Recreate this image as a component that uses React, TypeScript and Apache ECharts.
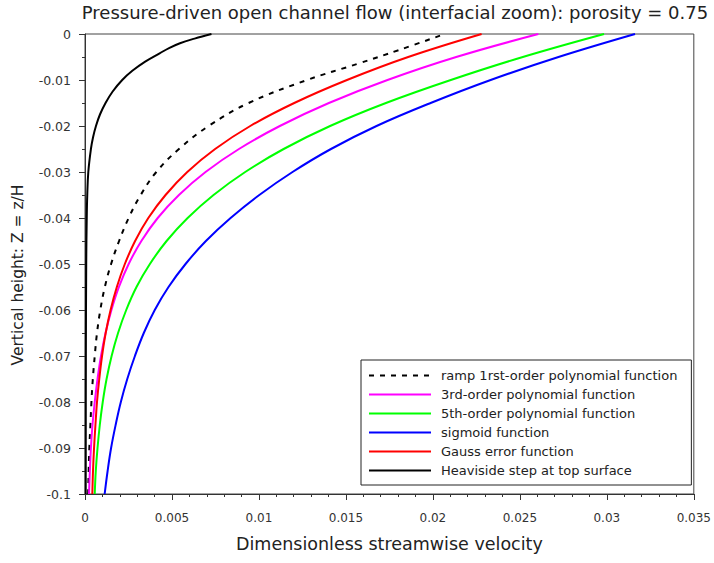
import React, { useEffect, useRef } from "react";
import * as echarts from "echarts";

// [velocity, Z] pairs
const rampData = [
  [0.00018, -0.1], [0.00021, -0.095], [0.00025, -0.09], [0.00031, -0.085], [0.00037, -0.08],
  [0.00045, -0.075], [0.00056, -0.07], [0.00069, -0.065], [0.00088, -0.06], [0.00114, -0.055],
  [0.0015, -0.05], [0.00196, -0.045], [0.00251, -0.04], [0.0032, -0.035], [0.0041, -0.03],
  [0.0054, -0.025], [0.00711, -0.02], [0.00941, -0.015], [0.01277, -0.01], [0.01574, -0.0064],
  [0.01804, -0.0035], [0.02068, 0],
];
const poly3Data = [
  [0.00023, -0.1], [0.00028, -0.095], [0.00034, -0.09], [0.00043, -0.085], [0.00056, -0.08],
  [0.00072, -0.075], [0.00092, -0.07], [0.00118, -0.065], [0.00152, -0.06], [0.00195, -0.055],
  [0.00251, -0.05], [0.00324, -0.045], [0.00418, -0.04], [0.0054, -0.035], [0.00693, -0.03],
  [0.00885, -0.025], [0.0112, -0.02], [0.01402, -0.015], [0.01739, -0.01], [0.02134, -0.005],
  [0.02606, 0],
];
const poly5Data = [
  [0.00056, -0.1], [0.00062, -0.095], [0.00072, -0.09], [0.00085, -0.085], [0.00102, -0.08],
  [0.00124, -0.075], [0.00153, -0.07], [0.0019, -0.065], [0.00237, -0.06], [0.00296, -0.055],
  [0.00373, -0.05], [0.00469, -0.045], [0.0059, -0.04], [0.00739, -0.035], [0.00921, -0.03],
  [0.01142, -0.025], [0.01409, -0.02], [0.0173, -0.015], [0.02103, -0.01], [0.02517, -0.005],
  [0.02984, 0],
];
const sigmoidData = [
  [0.00113, -0.1], [0.0013, -0.095], [0.0015, -0.09], [0.00176, -0.085], [0.00206, -0.08],
  [0.00243, -0.075], [0.00287, -0.07], [0.00338, -0.065], [0.00401, -0.06], [0.0048, -0.055],
  [0.00578, -0.05], [0.00695, -0.045], [0.00837, -0.04], [0.01002, -0.035], [0.01193, -0.03],
  [0.01414, -0.025], [0.01676, -0.02], [0.01987, -0.015], [0.02332, -0.01], [0.02722, -0.005],
  [0.03162, 0],
];
const gaussData = [
  [0.00042, -0.1], [0.00046, -0.095], [0.00052, -0.09], [0.0006, -0.085], [0.00069, -0.08],
  [0.00082, -0.075], [0.00098, -0.07], [0.00119, -0.065], [0.00147, -0.06], [0.00183, -0.055],
  [0.00229, -0.05], [0.00288, -0.045], [0.00364, -0.04], [0.00463, -0.035], [0.00588, -0.03],
  [0.00748, -0.025], [0.0095, -0.02], [0.01203, -0.015], [0.01506, -0.01], [0.01858, -0.005],
  [0.0228, 0],
];
const heavisideData = [
  [0.00004, -0.1], [0.00005, -0.07], [0.00007, -0.05], [0.0001, -0.04], [0.00013, -0.035],
  [0.00019, -0.03], [0.00034, -0.025], [0.00046, -0.0225], [0.00063, -0.02], [0.00086, -0.0175],
  [0.00118, -0.015], [0.00159, -0.0125], [0.00214, -0.01], [0.00272, -0.008], [0.00346, -0.006],
  [0.00429, -0.0042], [0.00486, -0.003], [0.00546, -0.002], [0.0063, -0.001], [0.00727, 0],
];

const seriesNames = [
  "ramp 1rst-order polynomial function",
  "3rd-order polynomial function",
  "5th-order polynomial function",
  "sigmoid function",
  "Gauss error function",
  "Heaviside step at top surface",
];
const seriesColors = ["#000000", "#ff00ff", "#00ff00", "#0000ff", "#ff0000", "#000000"];
const seriesData = [rampData, poly3Data, poly5Data, sigmoidData, gaussData, heavisideData];

const xTicks = { min: 0, max: 0.035, interval: 0.005 };
const yTicks = { min: -0.1, max: 0, interval: 0.01 };

const FONT = "DejaVu Sans";

export default function App() {
  const ref = useRef<HTMLDivElement>(null);
  useEffect(() => {
    if (!ref.current) return;
    const chart = echarts.init(ref.current, undefined, { renderer: "svg" });
    chart.setOption({
      animation: false,
      backgroundColor: "#ffffff",
      title: {
        text: "Pressure-driven open channel flow (interfacial zoom): porosity = 0.75",
        left: 390,
        textAlign: "center",
        top: -2,
        textStyle: { fontFamily: FONT, fontSize: 18, fontWeight: "normal", color: "#222" },
      },
      grid: {
        left: 85,
        right: 18,
        top: 34,
        bottom: 69,
        show: true,
        borderColor: "#444",
        borderWidth: 1,
        backgroundColor: "transparent",
      },
      legend: {
        orient: "vertical",
        left: 361,
        top: 360,
        itemWidth: 62,
        itemHeight: 14,
        itemGap: 6,
        padding: [9, 14, 8, 7],
        backgroundColor: "#fff",
        borderColor: "#222",
        borderWidth: 1,
        borderRadius: 0,
        itemStyle: { color: "transparent", borderColor: "transparent", borderWidth: 0 },
        textStyle: { fontFamily: FONT, fontSize: 13, color: "#222", padding: [0, 0, 0, 5] },
        data: seriesNames,
      },
      graphic: [
        {
          type: "text",
          x: 18,
          y: 275,
          rotation: Math.PI / 2,
          style: {
            text: "Vertical height: Z = z/H",
            fontFamily: FONT,
            fontSize: 15.5,
            fill: "#222",
            textAlign: "center",
            textVerticalAlign: "middle",
          },
        },
      ],
      xAxis: {
        type: "value",
        min: xTicks.min,
        max: xTicks.max,
        interval: xTicks.interval,
        name: "Dimensionless streamwise velocity",
        nameLocation: "middle",
        nameGap: 41,
        nameTextStyle: { fontFamily: FONT, fontSize: 17.5, color: "#222" },
        axisLine: { show: true, onZero: false, lineStyle: { color: "#333", width: 1 } },
        axisTick: { show: true, inside: false, length: 6, lineStyle: { color: "#333" } },
        minorTick: { show: true, splitNumber: 5, length: 3, lineStyle: { color: "#333" } },
        axisLabel: { fontFamily: FONT, fontSize: 12, color: "#333", margin: 18 },
        splitLine: { show: false },
      },
      yAxis: {
        type: "value",
        min: yTicks.min,
        max: yTicks.max,
        interval: yTicks.interval,
        axisLine: { show: true, onZero: false, lineStyle: { color: "#333", width: 1 } },
        axisTick: { show: true, inside: false, length: 6, lineStyle: { color: "#333" } },
        minorTick: { show: true, splitNumber: 2, length: 3, lineStyle: { color: "#333" } },
        axisLabel: { fontFamily: FONT, fontSize: 12.5, color: "#333", margin: 14 },
        splitLine: { show: false },
      },
      series: seriesNames.map((name, i) => ({
        name,
        type: "line",
        data: seriesData[i],
        symbol: "none",
        smooth: 0.4,
        color: seriesColors[i],
        itemStyle: { color: seriesColors[i] },
        lineStyle: {
          color: seriesColors[i],
          width: 2,
          type: i === 0 ? [5, 6] : "solid",
        },
        z: 2 + i,
      })),
    });
    return () => chart.dispose();
  }, []);
  return (
    <div
      ref={ref}
      style={{ position: "fixed", left: 0, top: 0, width: 714, height: 563 }}
    />
  );
}
